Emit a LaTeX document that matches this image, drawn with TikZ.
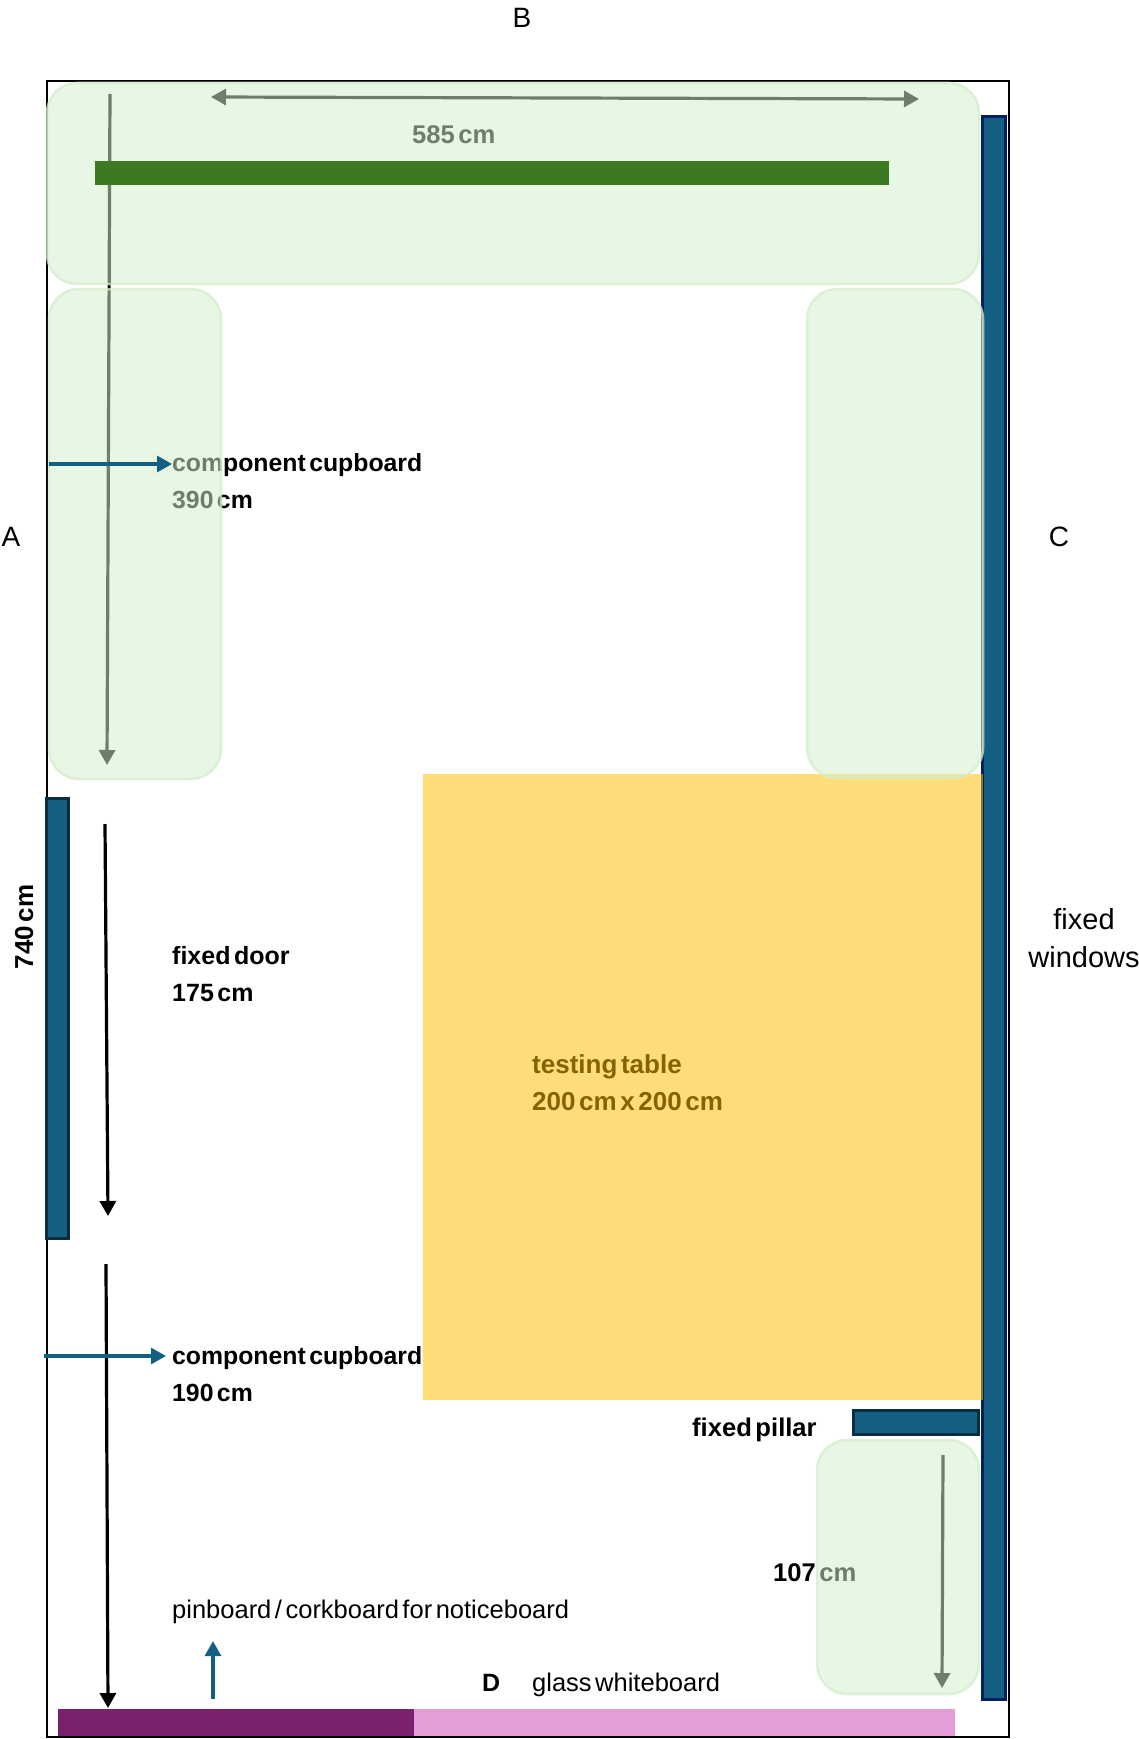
\documentclass[tikz,border=0pt]{standalone}
\usepackage{xcolor}
\usepackage{fontspec}
\setmainfont{Liberation Sans}[WordSpace=0.5]
\usepackage{tikz}
\usetikzlibrary{arrows.meta}
\definecolor{panelgreen}{RGB}{211,238,204}
\definecolor{barblue}{RGB}{21,96,130}
\definecolor{navy}{RGB}{0,32,96}
\definecolor{darkteal}{RGB}{10,46,64}
\definecolor{tablegold}{RGB}{255,192,0}
\definecolor{bargreen}{RGB}{60,122,34}
\definecolor{plum}{RGB}{122,32,108}
\definecolor{pinkboard}{RGB}{227,157,217}
\tikzset{
  block/.style={anchor=north west, inner sep=0pt, outer sep=0pt},
  panel/.style={block, draw=panelgreen, fill=panelgreen, fill opacity=.53, draw opacity=.75, line width=2.5pt, rounded corners=30pt},
  glazing/.style={block, draw=navy, fill=barblue, line width=3pt},
  fixture/.style={block, draw=darkteal, fill=barblue, line width=3pt},
  tabletop/.style={block, fill=tablegold, fill opacity=.52},
  board/.style={block},
  label/.style={anchor=base west, inner sep=0pt, align=left, font=\fontsize{25}{36.6}\selectfont\bfseries},
  note/.style={anchor=base west, inner sep=0pt, font=\fontsize{25.5}{30}\selectfont},
  side/.style={inner sep=0pt, font=\fontsize{28}{34}\selectfont},
  measure/.style={-{Triangle[length=15pt,width=16pt]}, line width=3.2pt},
  bothways/.style={{Triangle[length=15pt,width=16pt]}-{Triangle[length=15pt,width=16pt]}, line width=3.2pt},
  pointer/.style={measure, draw=barblue},
}
\begin{document}
\begin{tikzpicture}[x=1pt,y=-1pt]
  \useasboundingbox (0,0) rectangle (1139,1739);
  % Room outline
  \node[block, draw=black, line width=2.5pt, minimum width=962pt, minimum height=1656pt] (room) at (47,81) {};
  % Fixed parts
  \node[glazing, minimum width=23pt, minimum height=1582pt] (windows) at (982.5,117) {};
  \node[fixture, minimum width=22pt, minimum height=440pt] (door) at (46,798) {};
  \node[fixture, minimum width=125pt, minimum height=24pt] (pillar) at (853,1410.5) {};
  % Labels
  \node[label, font=\fontsize{24.8}{36.6}\selectfont\bfseries] (cupboardA) at (172,508) {component cupboard\\390 cm};
  \node[label] (doorlabel) at (172,1001) {fixed door\\175 cm};
  \node[label, font=\fontsize{24.8}{36.6}\selectfont\bfseries] (cupboardB) at (172,1401) {component cupboard\\190 cm};
  \node[label, font=\fontsize{26}{36.6}\selectfont\bfseries] (tablelabel) at (532,1110.5) {testing table\\200 cm x 200 cm};
  \node[label, font=\fontsize{25.6}{30}\selectfont\bfseries] (toplabel) at (412,144) {585 cm};
  \node[label, font=\fontsize{25.6}{30}\selectfont\bfseries] (pillarlabel) at (692,1436) {fixed pillar};
  \node[label, font=\fontsize{25.6}{30}\selectfont\bfseries] (shortlabel) at (773,1581) {107 cm};
  \node[label, rotate=90, font=\fontsize{26}{30}\selectfont\bfseries] (longlabel) at (33,969.5) {740 cm};
  \node[label] (dlabel) at (482,1691) {D};
  \node[note] (pinlabel) at (172,1618) {pinboard / corkboard for noticeboard};
  \node[note] (glasslabel) at (532,1691) {glass whiteboard};
  \node[side] (sideA) at (11,537) {A};
  \node[side] (sideB) at (522,18) {B};
  \node[side] (sideC) at (1059,537) {C};
  \node[side, align=center, font=\fontsize{29}{37.6}\selectfont] (windowlabel) at (1084,938) {fixed\\windows};
  % Arrow ends
  \coordinate (topL) at (211,97);
  \coordinate (topR) at (919,99);
  \coordinate (leftA) at (110,94);
  \coordinate (leftB) at (107,765);
  \coordinate (doorA) at (105,824);
  \coordinate (doorB) at (108,1216);
  \coordinate (lowA) at (106,1264);
  \coordinate (lowB) at (108,1708);
  \coordinate (pinA) at (49,464);
  \coordinate (pinB) at (172,464);
  \coordinate (pinC) at (44,1356);
  \coordinate (pinD) at (166,1356);
  \coordinate (pinE) at (213,1699);
  \coordinate (pinF) at (213,1641);
  \coordinate (shortA) at (943,1455);
  \coordinate (shortB) at (942,1688);
  % Measures, under the panels
  \draw[bothways] (topL) -- (topR);
  \draw[measure] (leftA) -- (leftB);
  \draw[measure] (doorA) -- (doorB);
  \draw[measure] (lowA) -- (lowB);
  \draw[measure] (shortA) -- (shortB);
  % Table and cupboards
  \node[tabletop, minimum width=560pt, minimum height=626pt] (table) at (423,774) {};
  \node[panel, minimum width=932pt, minimum height=201pt] (toppanel) at (47,83) {};
  \node[panel, minimum width=172pt, minimum height=490pt] (leftpanel) at (49,289) {};
  \node[panel, minimum width=176pt, minimum height=489pt] (rightpanel) at (807,289) {};
  \node[panel, minimum width=162pt, minimum height=254pt] (lowpanel) at (817,1440) {};
  % Boards
  \node[block, fill=bargreen, minimum width=794pt, minimum height=24pt] (bench) at (95,161) {};
  \node[board, fill=plum, minimum width=356pt, minimum height=27pt] (pinboard) at (58,1709) {};
  \node[board, fill=pinkboard, minimum width=541pt, minimum height=27pt] (glassboard) at (414,1709) {};
  % Blue pointers
  \draw[pointer] (pinA) -- (pinB);
  \draw[pointer] (pinC) -- (pinD);
  \draw[pointer] (pinE) -- (pinF);
\end{tikzpicture}
\end{document}
